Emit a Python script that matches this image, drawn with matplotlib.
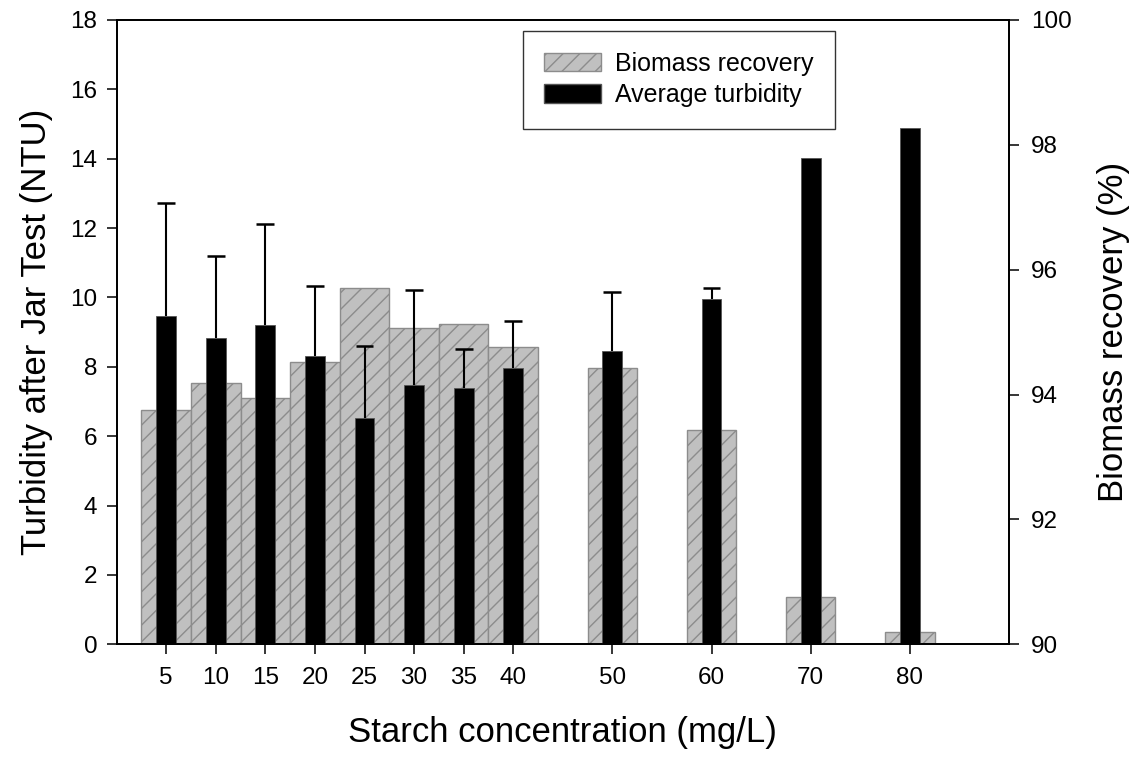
import matplotlib
matplotlib.use("Agg")
import matplotlib.pyplot as plt
from matplotlib.patches import Patch

plt.rcParams['font.family'] = ['Liberation Sans', 'DejaVu Sans']
plt.rcParams['hatch.color'] = '#808080'
plt.rcParams['hatch.linewidth'] = 1.0

starch = [5, 10, 15, 20, 25, 30, 35, 40, 50, 60, 70, 80]
turbidity = [9.47, 8.83, 9.20, 8.32, 6.53, 7.49, 7.40, 7.96, 8.47, 9.96, 14.01, 14.88]
turbidity_err = [3.25, 2.36, 2.91, 2.01, 2.08, 2.73, 1.12, 1.36, 1.68, 0.31, 0.0, 0.0]
biomass = [93.75, 94.18, 93.94, 94.52, 95.70, 95.06, 95.13, 94.76, 94.43, 93.44, 90.76, 90.19]
xticks = [5, 10, 15, 20, 25, 30, 35, 40, 50, 60, 70, 80]

fig = plt.figure(figsize=(11.37, 7.57), dpi=100)
ax = fig.add_axes([0.1026, 0.1489, 0.7848, 0.8247])
ax2 = ax.twinx()

# biomass recovery (right axis), drawn underneath
ax2.bar(starch, [b - 90 for b in biomass], width=5, bottom=90,
        color='#c0c0c0', edgecolor='#8c8c8c', hatch='//', linewidth=1.0)
ax2.set_ylim(90, 100)
ax2.set_yticks([90, 92, 94, 96, 98, 100])

# turbidity (left axis) drawn on top
ax.set_zorder(ax2.get_zorder() + 1)
ax.patch.set_visible(False)
ax.bar(starch, turbidity, width=2, color='black', edgecolor='#555555', linewidth=0.6)
sel = [i for i, e in enumerate(turbidity_err) if e > 0]
sx = [starch[i] for i in sel]
sy = [turbidity[i] for i in sel]
se = [turbidity_err[i] for i in sel]
ax.errorbar(sx, sy, yerr=[[0] * len(sel), se],
            fmt='none', ecolor='black', elinewidth=1.5, capsize=0)
ax.errorbar(sx, [y + e for y, e in zip(sy, se)], xerr=0.9,
            fmt='none', ecolor='black', elinewidth=1.8, capsize=0)

ax.set_xlim(0, 90)
ax.set_ylim(0, 18)
ax.set_yticks(range(0, 19, 2))
ax.set_xticks(xticks)
ax.set_xticklabels([str(t) for t in xticks])

for a in (ax, ax2):
    for s in a.spines.values():
        s.set_linewidth(1.3)
ax.tick_params(axis='both', direction='out', length=7, width=1.1, labelsize=17.5)
ax.tick_params(axis='x', pad=9)
ax.tick_params(axis='y', pad=7)
ax2.tick_params(axis='y', direction='out', length=7, width=1.1, labelsize=17.5, pad=9)

ax.set_xlabel('Starch concentration (mg/L)', fontsize=25, labelpad=20)
ax.set_ylabel('Turbidity after Jar Test (NTU)', fontsize=25, labelpad=12)
ax2.set_ylabel('Biomass recovery (%)', fontsize=25, labelpad=18)

handles = [Patch(facecolor='#c0c0c0', edgecolor='#8c8c8c', hatch='//', label='Biomass recovery'),
           Patch(facecolor='black', edgecolor='#555555', label='Average turbidity')]
leg = ax.legend(handles=handles, loc='upper left', bbox_to_anchor=(0.455, 0.983),
                borderaxespad=0, fontsize=18, frameon=True, fancybox=False,
                edgecolor='black', handlelength=2.3, handleheight=0.75,
                handletextpad=0.55, labelspacing=0.3, borderpad=0.85)
leg.get_frame().set_linewidth(1.0)

fig.savefig('out.png', dpi=100)
